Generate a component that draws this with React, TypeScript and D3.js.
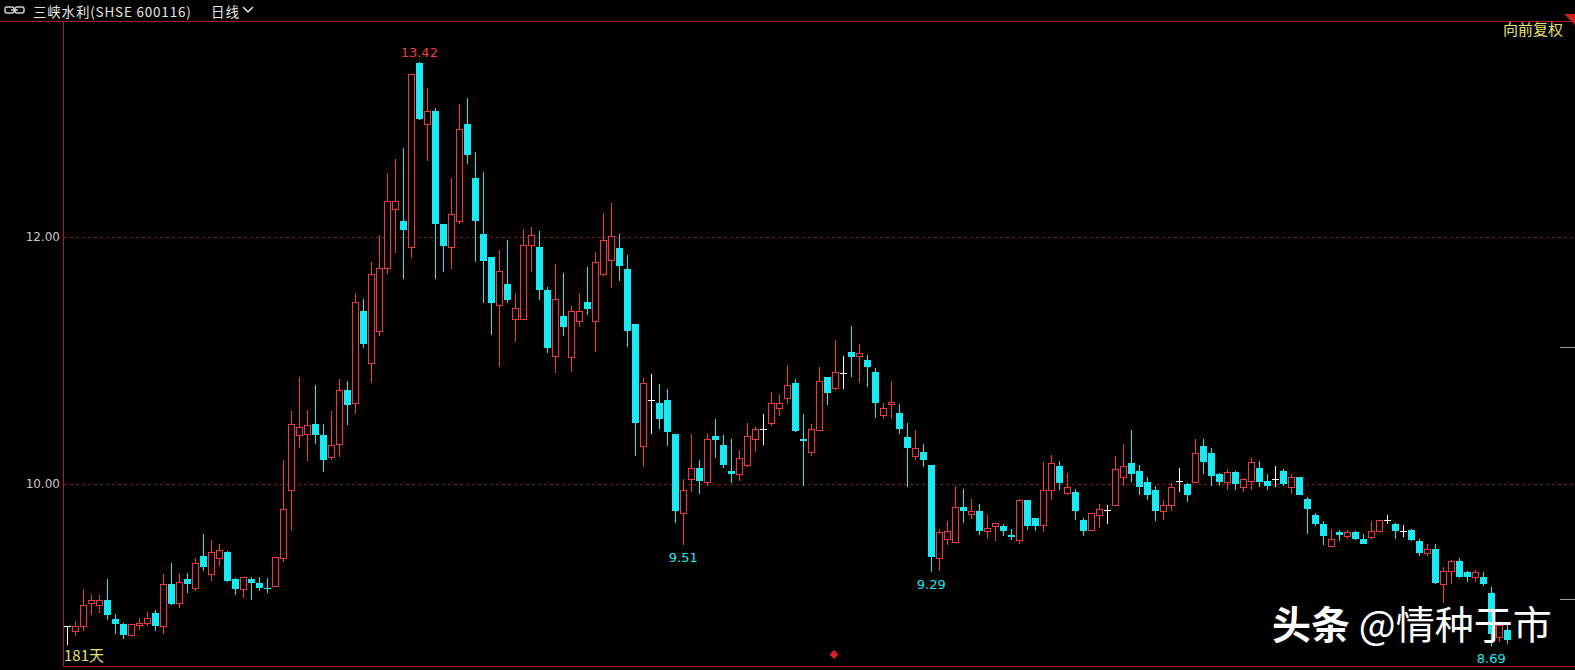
import React from 'react';
import * as d3 from 'd3';

const opens = [8.85,8.81,8.85,9.04,9.02,9.06,8.91,8.87,8.78,8.86,8.88,8.96,8.85,9.19,9.04,9.23,9.16,9.42,9.27,9.40,
9.45,9.23,9.15,9.23,9.20,9.16,9.18,9.40,9.95,10.40,10.41,10.49,10.40,10.22,10.33,10.76,10.66,11.40,10.98,11.24,
11.75,12.23,12.13,11.92,13.41,12.92,13.02,12.11,11.92,12.13,12.92,12.48,12.03,11.84,11.45,11.62,11.34,11.34,11.94,11.92,
11.57,11.04,11.36,11.03,11.32,11.48,11.32,11.70,11.82,11.91,11.74,11.30,10.31,10.68,10.66,10.68,10.41,9.77,10.04,10.13,
10.02,10.39,10.32,10.11,10.08,10.16,10.37,10.45,10.50,10.62,10.70,10.82,10.37,10.26,10.44,10.87,10.78,10.90,11.07,11.04,
11.01,10.91,10.56,10.65,10.58,10.38,10.23,10.26,10.16,9.40,9.56,9.53,9.82,9.76,9.78,9.62,9.66,9.66,9.59,9.55,
9.87,9.73,9.67,9.95,10.15,9.93,9.94,9.71,9.63,9.75,9.79,9.83,10.06,10.17,10.11,10.02,9.95,9.78,9.83,10.03,
10.00,10.02,10.31,10.25,10.08,10.02,10.10,9.98,10.03,10.13,10.03,10.04,10.11,9.98,10.06,9.88,9.75,9.68,9.50,9.61,
9.58,9.61,9.56,9.57,9.62,9.71,9.68,9.62,9.63,9.54,9.44,9.48,9.19,9.30,9.38,9.29,9.25,9.25,9.12,8.76,8.82];
const highs = [8.85,8.89,9.15,9.10,9.10,9.23,8.95,8.88,8.87,8.92,8.97,8.98,9.27,9.36,9.28,9.28,9.40,9.60,9.55,9.52,
9.46,9.24,9.25,9.25,9.25,9.24,9.41,10.20,10.59,10.87,10.60,10.80,10.49,10.59,10.85,10.84,11.55,11.50,11.80,12.02,
12.52,12.63,12.72,13.32,13.42,13.21,13.05,12.11,12.48,13.08,13.13,12.69,12.53,11.84,11.90,11.98,11.55,12.07,12.08,12.05,
11.60,11.78,11.71,11.44,11.55,11.76,11.88,12.20,12.28,12.03,11.86,11.30,10.86,10.89,10.81,10.77,10.41,10.04,10.41,10.20,
10.41,10.53,10.40,10.37,10.28,10.50,10.46,10.57,10.75,10.72,10.97,10.85,10.57,10.49,10.95,10.87,11.17,11.04,11.28,11.14,
11.05,10.94,10.66,10.84,10.65,10.50,10.44,10.33,10.16,9.64,9.70,9.99,9.96,9.88,9.84,9.75,9.69,9.68,9.64,9.88,
9.87,9.73,10.18,10.24,10.19,10.09,9.96,9.73,9.77,9.84,9.83,10.23,10.33,10.44,10.16,10.06,9.99,9.87,10.01,10.13,
10.01,10.37,10.37,10.29,10.09,10.12,10.11,10.05,10.21,10.19,10.08,10.15,10.12,10.08,10.06,9.90,9.77,9.70,9.64,9.63,
9.63,9.62,9.60,9.70,9.71,9.75,9.69,9.67,9.64,9.56,9.52,9.52,9.33,9.39,9.40,9.30,9.31,9.29,9.17,8.89,8.86];
const lows = [8.70,8.77,8.81,8.94,8.96,8.90,8.79,8.75,8.77,8.82,8.85,8.81,8.79,9.02,9.00,9.12,9.14,9.30,9.22,9.34,
9.21,9.10,9.08,9.06,9.14,9.12,9.18,9.37,9.62,10.29,10.19,10.33,10.10,10.20,10.22,10.48,10.57,11.10,10.82,11.20,
11.70,11.87,11.66,11.83,12.95,12.62,11.66,11.72,11.74,12.11,12.59,11.80,11.47,11.21,10.95,11.47,11.15,11.34,11.72,11.49,
11.06,10.90,11.20,10.91,11.27,11.37,11.07,11.69,11.59,11.65,11.11,10.23,10.14,10.41,10.45,10.31,9.69,9.51,9.94,9.92,
9.99,10.21,10.13,10.01,10.03,10.14,10.26,10.32,10.47,10.55,10.65,10.42,9.99,10.23,10.43,10.64,10.76,10.77,10.87,10.82,
10.79,10.54,10.53,10.53,10.41,9.98,10.20,10.14,9.29,9.30,9.51,9.53,9.69,9.72,9.59,9.56,9.54,9.58,9.55,9.52,
9.63,9.62,9.61,9.87,9.95,9.91,9.71,9.58,9.62,9.65,9.68,9.83,9.99,10.02,9.91,9.87,9.70,9.71,9.78,9.94,
9.86,10.01,10.08,9.99,9.99,9.95,9.95,9.94,9.95,9.98,9.95,9.98,9.99,9.92,9.91,9.60,9.66,9.51,9.50,9.54,
9.56,9.55,9.52,9.56,9.61,9.68,9.56,9.57,9.54,9.42,9.42,9.19,9.04,9.19,9.24,9.21,9.21,9.18,8.69,8.72,8.71];
const closes = [8.85,8.85,9.02,9.06,9.06,8.94,8.87,8.78,8.87,8.88,8.92,8.85,9.19,9.03,9.21,9.19,9.36,9.33,9.45,9.47,
9.22,9.15,9.25,9.20,9.16,9.15,9.41,9.80,10.49,10.46,10.48,10.40,10.20,10.32,10.76,10.64,11.48,11.14,11.70,11.75,
12.29,12.29,12.06,13.32,12.96,13.02,12.11,11.93,12.19,12.88,12.67,12.13,11.81,11.47,11.73,11.49,11.43,11.94,12.02,11.57,
11.10,11.50,11.27,11.40,11.40,11.42,11.80,11.98,12.01,11.77,11.24,10.50,10.82,10.68,10.53,10.42,9.78,9.95,10.13,10.03,
10.37,10.36,10.16,10.08,10.21,10.39,10.45,10.45,10.66,10.66,10.80,10.43,10.35,10.45,10.84,10.74,10.91,10.90,11.03,11.06,
10.95,10.66,10.62,10.67,10.45,10.29,10.29,10.20,9.41,9.61,9.62,9.82,9.78,9.78,9.62,9.65,9.69,9.62,9.57,9.87,
9.66,9.66,9.95,10.17,10.01,9.98,9.78,9.62,9.77,9.80,9.79,10.12,10.15,10.08,9.98,9.91,9.78,9.83,9.98,10.03,
9.91,10.25,10.18,10.07,10.02,10.10,10.00,10.04,10.18,10.02,9.99,10.04,10.00,10.06,9.91,9.80,9.68,9.58,9.56,9.59,
9.61,9.56,9.52,9.62,9.71,9.71,9.62,9.62,9.55,9.44,9.48,9.20,9.30,9.38,9.25,9.25,9.29,9.19,8.79,8.86,8.74];

const gridValues = [12, 10];
const gridLabels = ['12.00', '10.00'];
const rightTickValues = [11.11, 9.07];
const highMarks = [{ index: 44, text: '13.42' }];
const lowMarks = [
  { index: 77, text: '9.51' },
  { index: 108, text: '9.29' },
  { index: 178, text: '8.69' },
];

const W = 1575;
const H = 670;
const RED = '#f03c3c';
const CYAN = '#1ce8f0';
const FRAME = '#a82020';
const FONT = '"Noto Sans CJK SC", "Noto Sans", sans-serif';

export default function App() {
  const n = closes.length;
  const x = d3.scaleLinear().domain([0, n - 1]).range([67.3, 67.3 + 8 * (n - 1)]);
  const y = d3.scaleLinear().domain([10, 12]).range([484.3, 237.3]);

  const candles = d3.range(n).map((i) => {
    const o = opens[i], c = closes[i], h = highs[i], l = lows[i];
    const cx = Math.round(x(i)) + 0.5;
    const top = Math.round(y(Math.max(o, c)));
    const bot = Math.round(y(Math.min(o, c)));
    const yh = Math.round(y(h));
    const yl = Math.round(y(l));
    if (c > o) {
      return (
        <g key={i}>
          <line x1={cx} x2={cx} y1={yh} y2={yl} stroke={RED} strokeWidth={1} />
          <rect x={cx - 3} y={top + 0.5} width={6} height={Math.max(bot - top, 1)} fill="#000" stroke={RED} strokeWidth={1} />
        </g>
      );
    } else if (c < o) {
      return (
        <g key={i}>
          <line x1={cx} x2={cx} y1={yh} y2={yl} stroke={CYAN} strokeWidth={1} />
          <rect x={cx - 3.5} y={top} width={7} height={Math.max(bot - top, 1)} fill={CYAN} />
        </g>
      );
    }
    return (
      <g key={i}>
        <line x1={cx} x2={cx} y1={yh} y2={yl} stroke="#ffffff" strokeWidth={1} />
        <line x1={cx - 3.5} x2={cx + 3.5} y1={top + 0.5} y2={top + 0.5} stroke="#ffffff" strokeWidth={1} />
      </g>
    );
  });

  return (
    <svg width={W} height={H} style={{ position: 'fixed', left: 0, top: 0, background: '#000', display: 'block' }} fontFamily={FONT}>
      <rect x={0} y={0} width={W} height={H} fill="#000" />
      {/* header */}
      <g>
        <rect x={5} y={7} width={9} height={6} fill="none" stroke="#cfcfcf" strokeWidth={1.5} rx={2} />
        <rect x={15} y={7} width={9} height={6} fill="none" stroke="#cfcfcf" strokeWidth={1.5} rx={2} />
        <line x1={11} x2={18} y1={10} y2={10} stroke="#cfcfcf" strokeWidth={1.5} />
        <text x={33} y={16.5} fill="#e6e6e6" fontSize={13.5} letterSpacing={0.8}>三峡水利(SHSE 600116)</text>
        <text x={211} y={16.5} fill="#e6e6e6" fontSize={13.5} letterSpacing={1}>日线</text>
        <path d="M243,7 L248,12 L253,7" fill="none" stroke="#e6e6e6" strokeWidth={1.5} />
      </g>
      {/* frame */}
      <line x1={0} x2={W} y1={21.5} y2={21.5} stroke={FRAME} strokeWidth={1} />
      <line x1={63.5} x2={63.5} y1={21} y2={667} stroke={FRAME} strokeWidth={1} />
      <line x1={63} x2={W} y1={666.5} y2={666.5} stroke={FRAME} strokeWidth={1} />
      <path d={`M${W - 11},${14} L${W},${14} L${W},${25} Z`} fill="#d02020" />
      {/* grid */}
      {gridValues.map((v, k) => (
        <g key={v}>
          <line x1={64} x2={W} y1={Math.round(y(v)) + 0.5} y2={Math.round(y(v)) + 0.5} stroke="#7a1c1c" strokeDasharray="3,3" strokeWidth={1} />
          <text x={60} y={y(v) + 4} fill="#c8c8c8" fontSize={12} textAnchor="end" fontFamily="'DejaVu Sans', sans-serif">{gridLabels[k]}</text>
        </g>
      ))}
      {rightTickValues.map((v) => (
        <line key={v} x1={1560} x2={W} y1={Math.round(y(v)) + 0.5} y2={Math.round(y(v)) + 0.5} stroke="#9a9a9a" strokeWidth={1} />
      ))}
      {candles}
      {highMarks.map((m) => (
        <text key={m.text} x={x(m.index)} y={y(highs[m.index]) - 5} fill={RED} fontSize={13} textAnchor="middle" fontFamily="'DejaVu Sans', sans-serif">{m.text}</text>
      ))}
      {lowMarks.map((m) => (
        <text key={m.text} x={x(m.index)} y={y(lows[m.index]) + 17} fill={CYAN} fontSize={13} textAnchor="middle" fontFamily="'DejaVu Sans', sans-serif">{m.text}</text>
      ))}
      <text x={1503} y={35} fill="#e8e070" fontSize={15}>向前复权</text>
      <text x={64} y={661} fill="#e8e070" fontSize={15}>181天</text>
      <path d="M834,650 L838.5,654.5 L834,659 L829.5,654.5 Z" fill="#e02020" />
      <text x={1272} y={639} fill="#ffffff" fontSize={39}>
        <tspan fontWeight="bold">头条</tspan>
        <tspan> @情种于市</tspan>
      </text>
    </svg>
  );
}
